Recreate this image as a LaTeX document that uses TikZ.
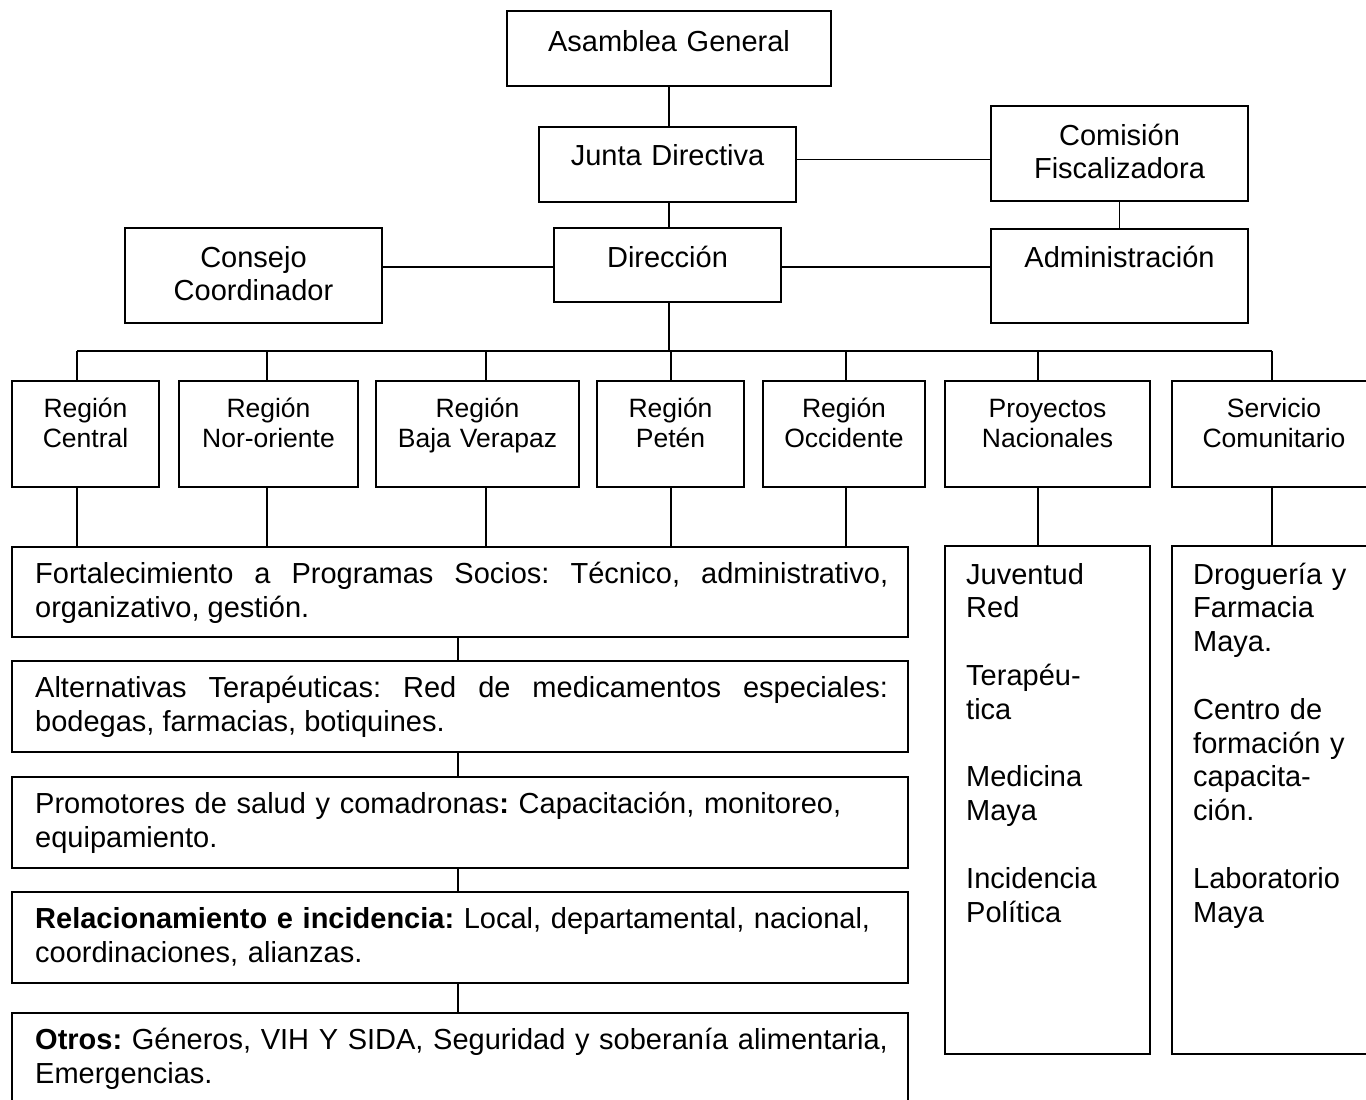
\documentclass[tikz,border=0pt]{standalone}
\usepackage{fontspec}
\setmainfont{Liberation Sans}
\newcommand\mybox[5]{\node[box, minimum width={#4-#2}, minimum height={#5-#3}] (#1) at ({(#2+#4)/2},{(#3+#5)/2}) {};}
\begin{document}
\frenchspacing
\begin{tikzpicture}[x=1pt,y=-1pt,
  box/.style={draw, line width=1.8pt, rectangle, inner sep=0pt},
  conn/.style={line width=1.8pt},
  toptxt/.style={font=\fontsize{29}{33}\selectfont, inner sep=0pt, anchor=base, text width=300pt, align=center},
  regtxt/.style={font=\fontsize{26.5}{30}\selectfont, inner sep=0pt, anchor=base, text width=220pt, align=center},
  lefttxt/.style={font=\fontsize{29}{34}\selectfont, inner sep=0pt, anchor=base west, text width=900pt, align=left},
  leftjust/.style={font=\fontsize{29}{34}\selectfont, inner sep=0pt, anchor=base west, text width=853pt, align=justify},
  coltxt/.style={font=\fontsize{29}{33.8}\selectfont, inner sep=0pt, anchor=base west, text width=175pt, align=left}]
\useasboundingbox (0,0) rectangle (1366,1100);
\clip (0,0) rectangle (1366,1100);
\fill[white] (0,0) rectangle (1366,1100);
% top boxes
\mybox{asm}{507}{11}{831}{86}
\mybox{jd}{539}{127}{796}{202}
\mybox{cf}{991}{106}{1248}{201}
\mybox{cc}{125}{228}{382}{323}
\mybox{dir}{554}{228}{781}{302}
\mybox{adm}{991}{229}{1248}{323}
\node[toptxt] (tasm) at (669,51) {Asamblea General};
\node[toptxt] (tjd) at (667.5,165) {Junta Directiva};
\node[toptxt] (tcf) at (1119.5,145) {Comisión\\Fiscalizadora};
\node[toptxt] (tcc) at (253.5,267) {Consejo\\Coordinador};
\node[toptxt] (tdir) at (667.5,267) {Dirección};
\node[toptxt] (tadm) at (1119.5,267) {Administración};
% regions
\mybox{rc}{12}{381}{159}{487}
\mybox{rn}{179}{381}{358}{487}
\mybox{rb}{376}{381}{579}{487}
\mybox{rp}{597}{381}{744}{487}
\mybox{ro}{763}{381}{925}{487}
\mybox{pn}{945}{381}{1150}{487}
\mybox{sc}{1172}{381}{1376}{487}
\node[regtxt] (trc) at (85.5,417) {Región\\Central};
\node[regtxt] (trn) at (268.5,417) {Región\\Nor-oriente};
\node[regtxt] (trb) at (477.5,417) {Región\\Baja Verapaz};
\node[regtxt] (trp) at (670.5,417) {Región\\Petén};
\node[regtxt] (tro) at (844,417) {Región\\Occidente};
\node[regtxt] (tpn) at (1047.5,417) {Proyectos\\Nacionales};
\node[regtxt] (tsc) at (1274,417) {Servicio\\Comunitario};
% left column
\mybox{fort}{12}{547}{908}{637}
\mybox{alt}{12}{661}{908}{752}
\mybox{prom}{12}{777}{908}{868}
\mybox{rel}{12}{892}{908}{983}
\mybox{otr}{12}{1013}{908}{1115}
\node[leftjust] (tfort) at (35,583) {Fortalecimiento a Programas Socios: Técnico, administrativo,\linebreak organizativo, gestión.};
\node[leftjust] (talt) at (35,697) {Alternativas Terapéuticas: Red de medicamentos especiales:\linebreak bodegas, farmacias, botiquines.};
\node[lefttxt] (tprom) at (35,813) {Promotores de salud y comadronas\textbf{:} Capacitación, monitoreo,\\equipamiento.};
\node[lefttxt] (trel) at (35,928) {\textbf{Relacionamiento e incidencia:} Local, departamental, nacional,\\coordinaciones, alianzas.};
\node[lefttxt] (totr) at (35,1049) {\textbf{Otros:} Géneros, VIH Y SIDA, Seguridad y soberanía alimentaria,\\Emergencias.};
% right columns
\mybox{jv}{945}{546}{1150}{1054}
\mybox{dr}{1172}{546}{1376}{1054}
\node[coltxt] (tjv) at (966,584) {Juventud\\Red\\\mbox{}\\Terapéu-\\tica\\\mbox{}\\Medicina\\Maya\\\mbox{}\\Incidencia\\Política};
\node[coltxt] (tdr) at (1193,584) {Droguería y\\Farmacia\\Maya.\\\mbox{}\\Centro de\\formación y\\capacita-\\ción.\\\mbox{}\\Laboratorio\\Maya};
% connectors
\coordinate (bus) at (669,351);
\coordinate (c1) at (77,351);
\coordinate (c2) at (267,351);
\coordinate (c3) at (486,351);
\coordinate (c4) at (671,351);
\coordinate (c5) at (846,351);
\coordinate (c6) at (1038,351);
\coordinate (c7) at (1272,351);
\draw[conn] (asm.south -| bus) -- (jd.north -| bus);
\draw[conn] (jd.south -| bus) -- (dir.north -| bus);
\draw[conn] ([yshift=5pt]jd.east) -- ([yshift=5pt]jd.east -| cf.west);
\draw[conn] (cf.south) -- (cf.south |- adm.north);
\draw[conn] ([yshift=-2pt]dir.west) -- ([yshift=-2pt]dir.west -| cc.east);
\draw[conn] ([yshift=-2pt]dir.east) -- ([yshift=-2pt]dir.east -| adm.west);
\draw[conn] (dir.south -| bus) -- (bus);
\draw[conn] (c1) -- (c7);
\foreach \c/\r in {c1/rc,c2/rn,c3/rb,c4/rp,c5/ro,c6/pn,c7/sc}
  \draw[conn] (\c) -- (\c |- \r.north);
\foreach \c/\r in {c1/rc,c2/rn,c3/rb,c4/rp,c5/ro}
  \draw[conn] (\c |- \r.south) -- (\c |- fort.north);
\draw[conn] (c6 |- pn.south) -- (c6 |- jv.north);
\draw[conn] (c7 |- sc.south) -- (c7 |- dr.north);
\draw[conn] ([xshift=-2pt]fort.south) -- ([xshift=-2pt]alt.north);
\draw[conn] ([xshift=-2pt]alt.south) -- ([xshift=-2pt]prom.north);
\draw[conn] ([xshift=-2pt]prom.south) -- ([xshift=-2pt]rel.north);
\draw[conn] ([xshift=-2pt]rel.south) -- ([xshift=-2pt]otr.north);
\end{tikzpicture}
\end{document}
